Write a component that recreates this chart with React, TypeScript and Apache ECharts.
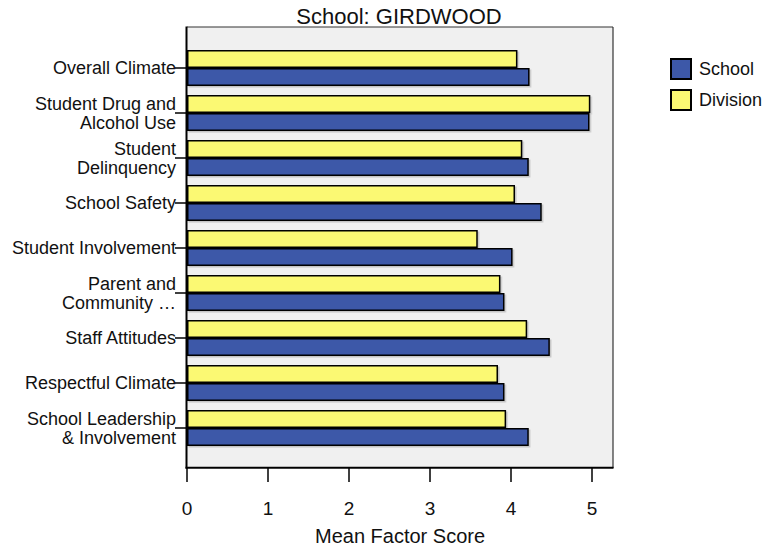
import React, { useEffect, useRef } from "react";
import * as echarts from "echarts";

const categories = [
  "Overall Climate",
  "Student Drug and\nAlcohol Use",
  "Student\nDelinquency",
  "School Safety",
  "Student Involvement",
  "Parent and\nCommunity …",
  "Staff Attitudes",
  "Respectful Climate",
  "School Leadership\n& Involvement",
];
const schoolValues = [4.23, 4.97, 4.22, 4.38, 4.02, 3.92, 4.48, 3.92, 4.22];
const divisionValues = [4.08, 4.98, 4.14, 4.05, 3.59, 3.87, 4.2, 3.84, 3.94];
const xTicks = [0, 1, 2, 3, 4, 5];
const titleText = "School: GIRDWOOD";
const xAxisName = "Mean Factor Score";
const seriesNames = ["School", "Division"];

const FONT = "'Liberation Sans', Arial, Helvetica, sans-serif";
const BLUE = "#3d58a8";
const YELLOW = "#fbf973";

export default function App() {
  const ref = useRef<HTMLDivElement>(null);
  useEffect(() => {
    if (!ref.current) return;
    const chart = echarts.init(ref.current, null, { renderer: "svg" });
    const barStyle = (color: string) => ({
      color,
      borderColor: "#000",
      borderWidth: 1.5,
      shadowColor: "rgba(0,0,0,0.18)",
      shadowOffsetX: 1.5,
      shadowOffsetY: 1.5,
      shadowBlur: 1,
    });
    chart.setOption({
      animation: false,
      backgroundColor: "#fff",
      textStyle: { fontFamily: FONT },
      title: {
        text: titleText,
        left: 399,
        top: 5,
        padding: 0,
        textAlign: "center",
        textStyle: { fontSize: 22, fontWeight: "normal", color: "#111", fontFamily: FONT },
      },
      legend: {
        data: seriesNames,
        orient: "vertical",
        left: 670,
        top: 58,
        padding: 0,
        itemWidth: 20,
        itemHeight: 20,
        itemGap: 9,
        icon: "rect",
        itemStyle: { borderColor: "#000", borderWidth: 2, shadowColor: "transparent", shadowBlur: 0, shadowOffsetX: 0, shadowOffsetY: 0 },
        textStyle: { fontSize: 18, color: "#111", fontFamily: FONT, padding: [4, 0, 0, 3] },
      },
      grid: {
        left: 187,
        top: 45.5,
        width: 426,
        height: 405,
        containLabel: false,
        outerBoundsMode: "none",
      },
      xAxis: {
        type: "value",
        min: 0,
        max: 5.26,
        interval: 1,
        position: "bottom",
        offset: 17.5,
        axisLine: { show: false },
        axisTick: {
          show: true,
          length: 14,
          customValues: xTicks,
          lineStyle: { color: "#000", width: 1.5 },
        },
        axisLabel: {
          customValues: xTicks,
          fontSize: 19,
          margin: 31,
          color: "#111",
          fontFamily: FONT,
        },
        splitLine: { show: false },
        name: xAxisName,
        nameLocation: "middle",
        nameGap: 58,
        nameTextStyle: { fontSize: 20, color: "#111", fontFamily: FONT },
      },
      yAxis: {
        type: "category",
        inverse: true,
        data: categories,
        axisLine: { show: false },
        axisTick: {
          show: true,
          alignWithLabel: true,
          length: 12,
          lineStyle: { color: "#000", width: 1.5 },
        },
        axisLabel: {
          fontSize: 18,
          color: "#111",
          margin: 11,
          lineHeight: 19,
          padding: [6, 0, 0, 0],
          fontFamily: FONT,
        },
        splitLine: { show: false },
      },
      graphic: {
        elements: [
          {
            type: "rect",
            z: -10,
            silent: true,
            shape: { x: 187, y: 27, width: 426, height: 441 },
            style: { fill: "#f0f0f0", stroke: "none" },
          },
          {
            type: "line",
            z: 50,
            silent: true,
            shape: { x1: 187, y1: 27, x2: 613, y2: 27 },
            style: { stroke: "#333", lineWidth: 1.2 },
          },
          {
            type: "line",
            z: 50,
            silent: true,
            shape: { x1: 613, y1: 27, x2: 613, y2: 468 },
            style: { stroke: "#333", lineWidth: 1.2 },
          },
          {
            type: "line",
            z: 50,
            silent: true,
            shape: { x1: 186.5, y1: 26.5, x2: 186.5, y2: 468.5 },
            style: { stroke: "#000", lineWidth: 2 },
          },
          {
            type: "line",
            z: 50,
            silent: true,
            shape: { x1: 185.5, y1: 467.8, x2: 613.5, y2: 467.8 },
            style: { stroke: "#000", lineWidth: 2 },
          },
        ],
      },
      series: [
        {
          name: "Division",
          type: "bar",
          data: divisionValues,
          barWidth: 18,
          barGap: "0%",
          itemStyle: barStyle(YELLOW),
        },
        {
          name: "School",
          type: "bar",
          data: schoolValues,
          barWidth: 18,
          barGap: "0%",
          itemStyle: barStyle(BLUE),
        },
      ],
    });
    return () => chart.dispose();
  }, []);
  return (
    <div
      ref={ref}
      style={{ position: "fixed", left: 0, top: 0, width: 769, height: 548, background: "#fff" }}
    />
  );
}
